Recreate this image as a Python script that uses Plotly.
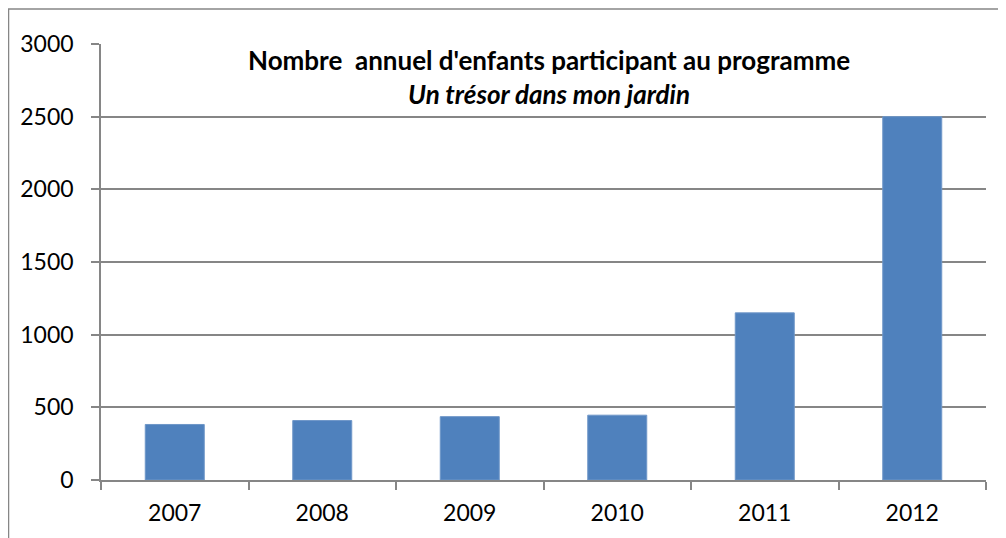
import plotly.graph_objects as go

# données
annees = ["2007", "2008", "2009", "2010", "2011", "2012"]
enfants = [382, 409, 436, 446, 1150, 2500]

gris = "#868686"
police = "Lato"

fig = go.Figure()

fig.add_bar(
    x=annees,
    y=enfants,
    marker=dict(color="#4F81BD", line=dict(color="#6F97C8", width=1)),
)

# titre sur deux lignes, comme dans Excel
fig.add_annotation(
    text="<b>Nombre  annuel d'enfants participant au programme</b><br><b><i>Un trésor dans mon jardin</i></b>",
    xref="paper", yref="paper",
    x=0.506, y=1.004,
    xanchor="center", yanchor="top",
    showarrow=False,
    font=dict(family=police, size=26, color="black"),
    align="center",
)

# cadre du graphique (déborde à droite et en bas)
fig.add_shape(
    type="rect",
    xref="paper", yref="paper",
    x0=-0.1045, x1=1.1, y0=-0.4, y1=1.0802,
    line=dict(color=gris, width=1.5),
    layer="below",
)

fig.update_xaxes(
    type="category",
    showline=True,
    linecolor=gris,
    linewidth=1.5,
    ticks="outside",
    tickson="boundaries",
    ticklen=8,
    tickcolor=gris,
    tickwidth=1.5,
    showgrid=False,
    ticklabelstandoff=12,
    tickfont=dict(family=police, size=23, color="black"),
)

fig.update_yaxes(
    range=[0, 3000],
    dtick=500,
    showline=True,
    linecolor=gris,
    linewidth=1.5,
    ticks="outside",
    ticklen=8,
    tickcolor=gris,
    tickwidth=1.5,
    showgrid=True,
    gridcolor=gris,
    gridwidth=1.5,
    zeroline=False,
    ticklabelstandoff=13,
    tickfont=dict(family=police, size=23, color="black"),
)

# la page ajoute 8 px de marge autour de la figure
fig.update_layout(
    width=1006,
    height=538,
    margin=dict(l=93, r=28, t=35.5, b=66),
    bargap=0.6,
    plot_bgcolor="white",
    paper_bgcolor="white",
    showlegend=False,
)

fig.write_html("out.html")
